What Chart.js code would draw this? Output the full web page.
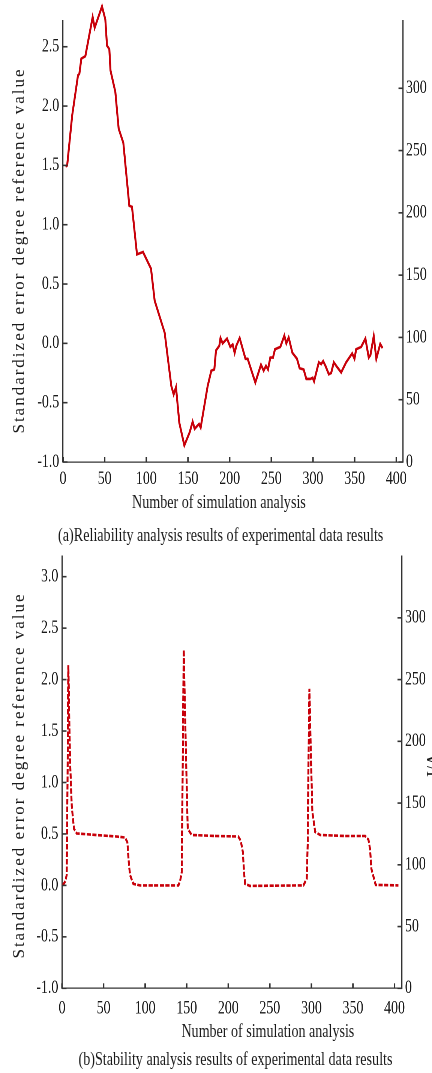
<!DOCTYPE html>
<html>
<head>
<meta charset="utf-8">
<script src="https://cdn.jsdelivr.net/npm/chart.js@4.4.1/dist/chart.umd.min.js"></script>
<style>
  body { margin: 0; background: #fff; width: 432px; height: 1073px; overflow: hidden; position: relative;
         font-family: "Liberation Serif", "Times New Roman", serif; color: #1a1a1a; }
  .plot { position: absolute; left: 0; }
  /* the reference is squeezed sideways, so the canvas is drawn wide and narrowed */
  .plot canvas { transform: scaleX(0.75); transform-origin: 0 0; }
  .txt { position: absolute; white-space: nowrap; line-height: 1; transform-origin: 50% 50%; }
</style>
</head>
<body>
<div class="plot" style="top:0"><canvas id="chartA" width="576" height="492"></canvas></div>
<div class="plot" style="top:540px"><canvas id="chartB" width="576" height="482"></canvas></div>

<div class="txt" id="yTitleA">Standardized error degree reference value</div>
<div class="txt" id="xTitleA">Number of simulation analysis</div>
<div class="txt" id="capA">(a)Reliability analysis results of experimental data results</div>
<div class="txt" id="yTitleB">Standardized error degree reference value</div>
<div class="txt" id="rTitleB">I/A</div>
<div class="txt" id="xTitleB">Number of simulation analysis</div>
<div class="txt" id="capB">(b)Stability analysis results of experimental data results</div>

<script>
// (a) reliability curve
const relX = [3, 5, 11, 18, 19.6, 22, 26.8, 30, 35.6, 38, 46.8, 50.8, 52.8, 55.6, 57, 62.8, 66.8, 72.4,
  79.6, 82.8, 88.8, 96, 105.6, 110, 122, 130, 132.8, 135.6, 139.6, 145.6, 152, 155.6, 158, 163.2, 165.2,
  173.6, 178, 181.6, 183.6, 187.6, 189, 191.6, 196.8, 200.8, 203.6, 206, 208, 212, 219, 221.6, 230.8,
  237.6, 240.8, 243.6, 246, 248.8, 252, 254.4, 260.8, 265.6, 268, 270.8, 275.3, 280.8, 284, 288.8, 292,
  296.8, 299.6, 301.3, 307, 309.8, 312.2, 315, 319, 321.8, 325, 329, 333.8, 339.8, 347, 349.8, 351.8,
  357.8, 362.9, 366.9, 368.9, 372.9, 376, 380.7, 383.5];
const relY = [1.49, 1.50, 1.92, 2.26, 2.27, 2.40, 2.42, 2.54, 2.75, 2.66, 2.84, 2.73, 2.51, 2.48, 2.30, 2.12, 1.81, 1.69,
  1.16, 1.15, 0.75, 0.77, 0.63, 0.36, 0.09, -0.36, -0.43, -0.37, -0.67, -0.86, -0.75, -0.66, -0.72, -0.68, -0.71,
  -0.36, -0.23, -0.22, -0.06, -0.02, 0.045, 0.0, 0.04, -0.03, -0.01, -0.08, -0.02, 0.045, -0.13, -0.13, -0.33,
  -0.18, -0.23, -0.19, -0.22, -0.12, -0.12, -0.05, -0.03, 0.065, 0.0, 0.05, -0.08, -0.13, -0.21, -0.22, -0.30,
  -0.30, -0.29, -0.32, -0.16, -0.175, -0.15, -0.19, -0.26, -0.25, -0.16, -0.20, -0.245, -0.16, -0.085, -0.13, -0.05,
  -0.03, 0.04, -0.12, -0.10, 0.06, -0.13, -0.005, -0.04];

// (b) stability curve
const stabX = [0.8, 4, 5.6, 6.6, 7.6, 9.6, 11.7, 14.4, 17.7, 40, 65.8, 75.8, 78.6, 80.5, 81.9, 85.8, 93.9,
  140, 142, 144, 145, 146.4, 148, 150, 151.2, 156, 185, 212, 215, 217.6, 219, 220.3, 226,
  290.4, 294.4, 295.6, 296.5, 297.6, 299.3, 301.2, 304.5, 310.5, 340, 364.6, 368.6, 370.6, 372.2, 377.3, 404.7];
const stabY = [0.0, 0.04, 0.10, 1.0, 2.14, 1.22, 0.77, 0.55, 0.505, 0.49, 0.475, 0.465, 0.42, 0.2, 0.10, 0.015, 0.0,
  0.0, 0.04, 0.13, 1.0, 2.29, 1.67, 0.97, 0.55, 0.49, 0.48, 0.475, 0.435, 0.32, 0.12, 0.015, -0.005,
  0.0, 0.065, 0.42, 1.2, 1.91, 1.29, 0.71, 0.52, 0.49, 0.48, 0.48, 0.445, 0.35, 0.16, 0.005, 0.0];

// tick labels
const xTicks = [0, 50, 100, 150, 200, 250, 300, 350, 400];
const leftTicksA = [-1, -0.5, 0, 0.5, 1, 1.5, 2, 2.5];
const leftTicksB = [-1, -0.5, 0, 0.5, 1, 1.5, 2, 2.5, 3];
const rightTicks = [0, 50, 100, 150, 200, 250, 300];

const LINE_RED = "#c8000a";
const AXIS = "#333333";
const TICK_FONT = { family: "'Liberation Serif', serif", size: 18.5 };

// ticks in the reference point into the plot
const inwardTicks = {
  id: "inwardTicks",
  afterDraw(chart) {
    const ctx = chart.ctx, a = chart.chartArea;
    ctx.save();
    ctx.strokeStyle = AXIS;
    const xs = chart.scales.x;
    ctx.lineWidth = 2;
    xs.ticks.forEach((t, i) => {
      const p = xs.getPixelForTick(i);
      ctx.beginPath(); ctx.moveTo(p, a.bottom); ctx.lineTo(p, a.bottom - 5); ctx.stroke();
    });
    ctx.lineWidth = 1.6;
    const yl = chart.scales.y;
    yl.ticks.forEach((t, i) => {
      const p = yl.getPixelForTick(i);
      ctx.beginPath(); ctx.moveTo(a.left, p); ctx.lineTo(a.left + 6, p); ctx.stroke();
    });
    const yr = chart.scales.y2;
    yr.ticks.forEach((t, i) => {
      const p = yr.getPixelForTick(i);
      ctx.beginPath(); ctx.moveTo(a.right, p); ctx.lineTo(a.right - 6, p); ctx.stroke();
    });
    ctx.restore();
  }
};

function makeChart(id, xs, ys, cfg) {
  const pts = xs.map((x, i) => ({ x: x, y: ys[i] }));
  return new Chart(document.getElementById(id), {
    type: "line",
    data: {
      datasets: [{
        data: pts,
        borderColor: LINE_RED,
        borderWidth: 2.6,
        borderDash: cfg.dash,
        pointRadius: 0,
        tension: 0,
        clip: false,
        yAxisID: "y"
      }]
    },
    options: {
      responsive: false,
      animation: false,
      devicePixelRatio: 2,
      layout: { padding: { top: cfg.top, left: 0, right: 0, bottom: 0 } },
      plugins: { legend: { display: false }, tooltip: { enabled: false } },
      scales: {
        x: {
          type: "linear", min: 0, max: cfg.xMax,
          afterBuildTicks: s => { s.ticks = xTicks.map(v => ({ value: v })); },
          afterFit: s => { s.height = cfg.xH; },
          grid: { display: false, drawTicks: false },
          border: { display: true, color: AXIS, width: 1.2 },
          ticks: { color: "#1a1a1a", font: TICK_FONT, padding: cfg.xPad, maxRotation: 0, autoSkip: false }
        },
        y: {
          position: "left", min: -1, max: cfg.yMax,
          afterBuildTicks: s => { s.ticks = cfg.leftTicks.map(v => ({ value: v })); },
          afterFit: s => { s.width = cfg.leftW; },
          grid: { display: false, drawTicks: false },
          border: { display: true, color: AXIS, width: 1.6 },
          ticks: { color: "#1a1a1a", font: TICK_FONT, padding: 5, callback: v => v.toFixed(1) }
        },
        y2: {
          display: true, position: "right", min: 0, max: cfg.rMax,
          afterBuildTicks: s => { s.ticks = rightTicks.map(v => ({ value: v })); },
          afterFit: s => { s.width = cfg.rightW; },
          grid: { display: false, drawTicks: false },
          border: { display: true, color: AXIS, width: 1.6 },
          ticks: { color: "#1a1a1a", font: TICK_FONT, padding: 4, callback: v => String(v) }
        }
      }
    },
    plugins: [inwardTicks]
  });
}

makeChart("chartA", relX, relY, {
  dash: [], top: 21, xMax: 408, xH: 30, xPad: 6,
  yMax: 2.717, leftTicks: leftTicksA, leftW: 84, rMax: 354, rightW: 38.7
});
makeChart("chartB", stabX, stabY, {
  dash: [5.5, 2], top: 13, xMax: 409, xH: 33.7, xPad: 9,
  yMax: 3.2, leftTicks: leftTicksB, leftW: 82.7, rMax: 350, rightW: 40
});

// place html text by centre and visible length
function placeText(id, cx, cy, len, size, rot, spread) {
  const el = document.getElementById(id);
  el.style.fontSize = size + "px";
  let w = el.offsetWidth;
  let sx = 1;
  if (len && spread) {
    el.style.letterSpacing = ((len - w) / el.textContent.length) + "px";
    w = el.offsetWidth;
  } else if (len) {
    sx = len / w;
  }
  const h = el.offsetHeight;
  el.style.left = (cx - w / 2) + "px";
  el.style.top = (cy - h / 2) + "px";
  el.style.transform = "rotate(" + rot + "deg) scaleX(" + sx + ")";
}

placeText("yTitleA", 18, 250, 366, 17, -90, true);
placeText("xTitleA", 219, 501, 174, 19, 0, false);
placeText("capA", 220.5, 535, 325, 18.5, 0, false);
placeText("yTitleB", 18, 775, 366, 17, -90, true);
placeText("rTitleB", 434, 765, null, 18, -90, false);
placeText("xTitleB", 267.5, 1030, 173, 19, 0, false);
placeText("capB", 235, 1059, 314, 18.5, 0, false);
</script>
</body>
</html>
